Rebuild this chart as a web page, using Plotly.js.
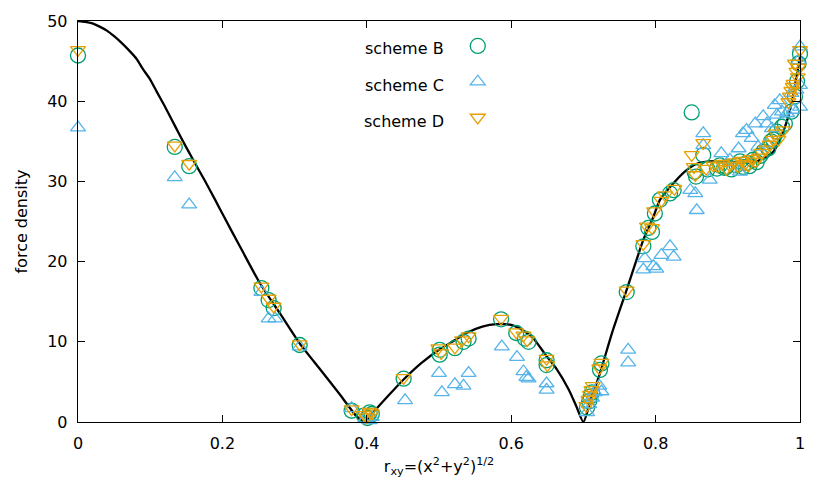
<!DOCTYPE html>
<html>
<head>
<meta charset="utf-8">
<script src="https://cdn.plot.ly/plotly-3.0.1.min.js"></script>
<style>html,body{margin:0;padding:0;background:#fff;}#chart{width:830px;height:498px;}</style>
</head>
<body>
<div id="chart"></div>
<script>
// exact (analytic) force density curve
const curveR = [0,0.01,0.02,0.03,0.04,0.05,0.06,0.07,0.081,0.09,0.1,0.109,0.12,0.135,0.146,0.16,0.175,0.19,0.201,0.226,0.252,0.28,0.307,0.335,0.363,0.386,0.398,0.41,0.43,0.451,0.475,0.5,0.52,0.538,0.56,0.58,0.6,0.615,0.63,0.649,0.663,0.68,0.69,0.7,0.71,0.723,0.74,0.76,0.783,0.797,0.806,0.825,0.84,0.857,0.875,0.9,0.921,0.94,0.954,0.963,0.972,0.984,0.993,1.0];
const curveF = [50,49.9,49.7,49.3,48.8,48.1,47.3,46.4,45.3,44.0,42.7,41.2,39.4,36.8,34.9,32.6,30.2,27.7,25.8,21.6,17.3,13.5,9.8,6.6,3.4,0.7,0,1.3,3.3,5.3,7.3,9.0,10.1,11.1,11.9,12.2,12.1,11.5,10.5,8.2,6.6,4.0,2.0,0,2.7,6.1,11.2,16.5,22.7,25.6,27.7,29.8,31.2,32.2,32.5,32.5,32.3,32.5,33.1,33.7,35.2,38.1,42.0,45.5];

// scheme B
const bR = [0,0.134,0.154,0.254,0.264,0.271,0.307,0.379,0.396,0.401,0.404,0.407,0.451,0.501,0.501,0.522,0.534,0.541,0.586,0.607,0.619,0.624,0.649,0.649,0.705,0.708,0.710,0.712,0.723,0.725,0.760,0.783,0.790,0.795,0.799,0.806,0.820,0.825,0.850,0.854,0.856,0.866,0.872,0.885,0.889,0.895,0.898,0.905,0.912,0.917,0.921,0.926,0.930,0.935,0.940,0.945,0.949,0.956,0.960,0.963,0.968,0.975,0.979,0.988,0.993,0.996,0.998,1.0];
const bF = [45.7,34.3,31.9,16.7,15.2,14.2,9.6,1.4,0.8,0.5,1.2,1.0,5.4,9.0,8.4,9.2,10.0,10.4,12.8,11.1,10.4,10.0,7.7,7.1,1.8,2.6,3.2,3.7,6.5,7.3,16.2,21.9,24.2,23.7,26.0,27.7,28.5,28.9,38.6,31.2,30.6,33.3,31.5,31.6,32.0,31.7,31.8,31.5,32.0,32.5,31.8,32.3,31.9,32.7,32.4,33.2,33.7,34.1,35.0,35.2,36.2,36.8,37.2,38.7,40.6,42.5,44.7,45.9];

// scheme C
const cR = [0,0.134,0.154,0.254,0.264,0.273,0.307,0.379,0.398,0.404,0.407,0.453,0.500,0.504,0.522,0.534,0.541,0.587,0.608,0.617,0.621,0.624,0.649,0.649,0.705,0.708,0.712,0.716,0.722,0.725,0.762,0.762,0.785,0.783,0.797,0.801,0.808,0.820,0.825,0.848,0.855,0.857,0.866,0.866,0.875,0.891,0.903,0.915,0.917,0.921,0.926,0.933,0.938,0.942,0.949,0.954,0.954,0.961,0.965,0.968,0.972,0.975,0.982,0.988,0.991,0.995,1.0,1.0,0.998,1.0];
const cF = [36.7,30.5,27.1,16.2,12.9,12.9,9.4,1.7,0.4,0.2,0.6,2.7,6.1,3.7,4.7,4.5,6.1,9.4,8.1,6.3,5.6,5.4,4.8,4.0,1.2,2.2,3.0,3.7,4.5,3.8,9.0,7.4,20.4,19.0,19.4,19.1,20.8,21.9,20.6,28.9,28.5,26.4,36.0,34.5,30.2,33.5,32.7,34.1,31.2,36.0,36.4,35.4,37.2,34.3,38.1,37.2,34.7,36.6,39.5,38.3,40.1,38.7,38.5,41.0,38.9,41.4,39.3,42.0,45.1,46.8];

// scheme D
const dR = [0,0.134,0.154,0.254,0.264,0.271,0.307,0.379,0.396,0.400,0.404,0.407,0.451,0.499,0.503,0.522,0.532,0.541,0.586,0.607,0.617,0.622,0.649,0.650,0.704,0.707,0.709,0.711,0.713,0.722,0.725,0.760,0.783,0.788,0.795,0.798,0.808,0.813,0.826,0.850,0.866,0.853,0.855,0.870,0.880,0.886,0.892,0.898,0.903,0.909,0.914,0.919,0.924,0.928,0.933,0.938,0.943,0.947,0.953,0.958,0.963,0.966,0.970,0.977,0.984,0.986,0.988,0.990,0.991,0.993,0.995,0.997,0.998,1.0];
const dF = [46.4,34.5,32.2,16.9,15.4,14.4,9.7,1.6,0.9,0.6,1.3,1.1,5.5,9.2,8.6,9.3,10.2,10.7,12.9,11.2,10.8,10.2,7.9,7.1,2.0,2.8,3.4,4.0,4.5,6.7,7.4,16.4,22.2,24.4,24.2,26.3,27.6,28.3,29.1,33.3,34.8,31.8,30.8,31.6,32.0,31.9,32.2,31.6,32.0,32.4,31.9,32.6,32.2,32.0,32.8,32.5,33.0,33.6,34.0,34.6,35.2,36.0,35.2,36.4,39.9,40.6,41.3,41.8,42.2,44.7,43.7,43.0,44.2,46.4];

const xTicks = [0,0.2,0.4,0.6,0.8,1];
const xTickText = ['0','0.2','0.4','0.6','0.8','1'];
const yTicks = [0,10,20,30,40,50];
const legendNames = ['scheme B','scheme C','scheme D'];

const GREEN = '#009e73', BLUE = '#56b4e9', ORANGE = '#e69f00';
const FONT = 'DejaVu Sans, Liberation Sans, Arial, sans-serif';

function pts(x, y, name, sym, col, size) {
  return {x: x, y: y, name: name, type: 'scatter', mode: 'markers', showlegend: false,
    cliponaxis: false,
    marker: {symbol: sym, size: size, color: col, line: {color: col, width: 1.3}}};
}
function leg(name, sym, col, size, grp) {
  return {x: [null], y: [null], name: ' ', legendgroup: grp, type: 'scatter', mode: 'markers',
    showlegend: true, hoverinfo: 'skip',
    marker: {symbol: sym, size: size, color: col, line: {color: col, width: 1.3}}};
}

const traces = [
  {x: curveR, y: curveF, type: 'scatter', mode: 'lines', name: 'exact', showlegend: false,
   line: {color: '#000', width: 2.3, shape: 'spline', smoothing: 0.6}},
  pts(bR, bF, legendNames[0], 'circle-open', GREEN, 15),
  pts(cR, cF, legendNames[1], 'triangle-up-open', BLUE, 13),
  pts(dR, dF, legendNames[2], 'triangle-down-open', ORANGE, 13),
  leg(legendNames[0], 'circle-open', GREEN, 15, 'b'),
  leg(legendNames[1], 'triangle-up-open', BLUE, 13, 'c'),
  leg(legendNames[2], 'triangle-down-open', ORANGE, 13, 'd')
];

const axisCommon = {
  showgrid: false, zeroline: false, showline: true, linecolor: '#000', linewidth: 1.3,
  mirror: 'ticks', ticks: 'inside', ticklen: 7, tickwidth: 1.2, tickcolor: '#000',
  tickfont: {family: FONT, size: 16, color: '#000'}
};

const layout = {
  width: 830, height: 498,
  margin: {l: 78, r: 30, t: 21, b: 76},
  paper_bgcolor: '#fff', plot_bgcolor: '#fff',
  font: {family: FONT, size: 16, color: '#000'},
  xaxis: Object.assign({}, axisCommon, {
    range: [0, 1], tickvals: xTicks, ticktext: xTickText, ticklabelstandoff: 6,
    title: {text: 'r<sub>xy</sub>=(x<sup>2</sup>+y<sup>2</sup>)<sup>1/2</sup>', font: {family: FONT, size: 16}, standoff: 9}
  }),
  yaxis: Object.assign({}, axisCommon, {
    range: [0, 50], tickvals: yTicks, ticklabelstandoff: 6,
    title: {text: 'force density', font: {family: FONT, size: 16}, standoff: 15}
  }),
  showlegend: true,
  legend: {x: 0.526, y: 0.98, xanchor: 'left', yanchor: 'top', bgcolor: 'rgba(0,0,0,0)',
    font: {family: FONT, size: 16}, tracegroupgap: 12, itemwidth: 30, traceorder: 'grouped'},
  annotations: legendNames.map((t, i) => ({
    text: t, xref: 'paper', yref: 'paper', x: (446 - 78) / 722, y: (422 - [48, 85, 122][i]) / 401,
    xanchor: 'right', yanchor: 'middle', showarrow: false, font: {family: FONT, size: 16, color: '#000'}
  }))
};

Plotly.newPlot('chart', traces, layout, {displayModeBar: false, staticPlot: true});
</script>
</body>
</html>
